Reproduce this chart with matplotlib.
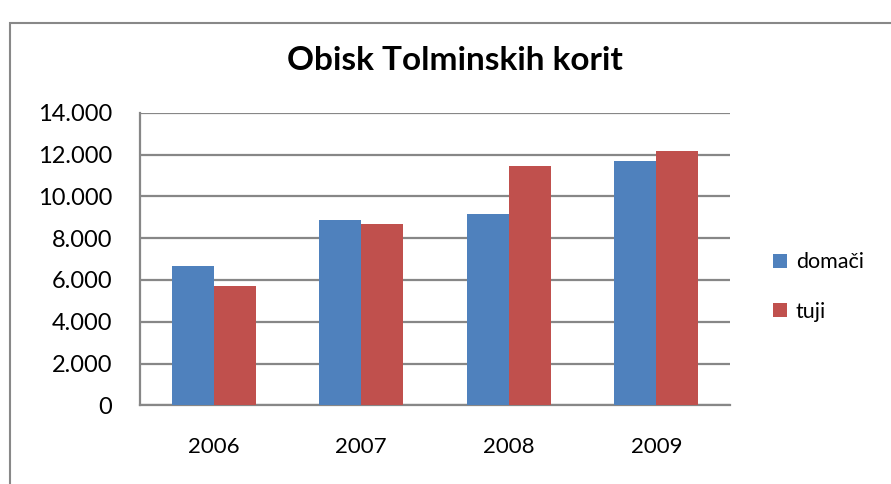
import matplotlib.pyplot as plt
from matplotlib.patches import Rectangle
from matplotlib.ticker import FuncFormatter
import numpy as np

plt.rcParams['font.family'] = ['Lato', 'DejaVu Sans']

years = ['2006', '2007', '2008', '2009']
domaci = [6650, 8870, 9130, 11680]
tuji = [5700, 8660, 11430, 12190]
series_names = ['domači', 'tuji']
colours = ['#4F81BD', '#C0504D']

fig = plt.figure(figsize=(8.91, 4.84), dpi=100)
ax = fig.add_axes([140/891, 1-405.3/484, 590/891, 292.6/484])

x = np.arange(len(years))
w = 0.285
ax.bar(x - w/2, domaci, w, color=colours[0], label=series_names[0], zorder=3)
ax.bar(x + w/2, tuji, w, color=colours[1], label=series_names[1], zorder=3)

ax.set_xlim(-0.5, len(years) - 0.5)
ax.set_ylim(0, 14000)
ax.set_yticks(np.arange(0, 14001, 2000))
ax.yaxis.set_major_formatter(FuncFormatter(lambda v, p: f'{int(v):,}'.replace(',', '.')))
ax.set_xticks(x)
ax.set_xticklabels(years)
ax.tick_params(axis='both', length=0, colors='black')
ax.tick_params(axis='y', pad=20, labelsize=17)
ax.tick_params(axis='x', pad=23, labelsize=16)
ax.grid(axis='y', color='#878787', linewidth=1.6, zorder=0)

for side in ['top', 'right']:
  ax.spines[side].set_visible(False)
for side in ['left', 'bottom']:
  ax.spines[side].set_color('#878787')
  ax.spines[side].set_linewidth(1.6)

fig.text(455/891, 1-61/484, 'Obisk Tolminskih korit', ha='center', va='center',
         fontsize=24, fontweight='bold')

ax.legend(loc='center left', bbox_to_anchor=(754/891, 1-287/484), bbox_transform=fig.transFigure,
          frameon=False, fontsize=15.5, handlelength=0.65, handleheight=0.65,
          handletextpad=0.4, labelspacing=1.35)

fig.patches.append(Rectangle((10/891, -0.1), 1.2, 1.1 - 23/484, transform=fig.transFigure,
                             fill=False, edgecolor='#888888', linewidth=1.5))

fig.savefig('out.png', dpi=100)
